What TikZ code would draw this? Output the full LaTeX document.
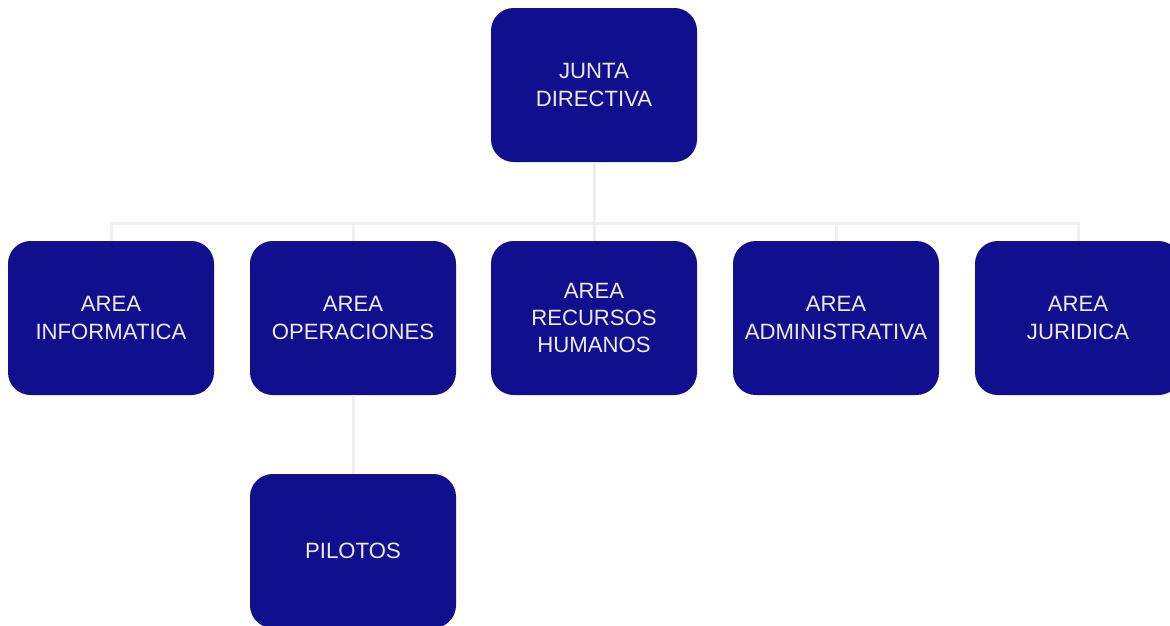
\documentclass[tikz,border=0pt]{standalone}
\usepackage{fontspec}
\setmainfont{Liberation Sans}
\definecolor{boxblue}{HTML}{10108F}
\definecolor{boxtext}{HTML}{ECECF8}
\definecolor{linegray}{HTML}{EFEFEF}
\tikzset{
  unit/.style={fill=boxblue, text=boxtext, rounded corners=17pt, minimum width=154.5pt,
    minimum height=115.5pt, align=center, inner sep=0pt, font=\fontsize{16.6}{20.3}\selectfont},
  link/.style={draw=linegray, line width=2.25pt}
}
\begin{document}
\begin{tikzpicture}[x=0.75pt,y=-0.75pt]
  \useasboundingbox (0,0) rectangle (1170,625);
  \node[unit] (junta) at (594,85) {JUNTA\\DIRECTIVA};
  \node[unit] (informatica) at (111,318) {AREA\\INFORMATICA};
  \node[unit] (operaciones) at (353,318) {AREA\\OPERACIONES};
  \node[unit] (rrhh) at (594,318) {AREA\\RECURSOS\\HUMANOS};
  \node[unit] (admin) at (836,318) {AREA\\ADMINISTRATIVA};
  \node[unit] (juridica) at (1078,318) {AREA\\JURIDICA};
  \node[unit] (pilotos) at (353,551) {PILOTOS};
  \coordinate (bar) at (594,223);
  \draw[link] (junta) -- (bar);
  \draw[link] (bar) -| (informatica);
  \draw[link] (bar) -| (operaciones);
  \draw[link] (bar) -- (rrhh);
  \draw[link] (bar) -| (admin);
  \draw[link] (bar) -| (juridica);
  \draw[link] (operaciones) -- (pilotos);
\end{tikzpicture}
\end{document}
